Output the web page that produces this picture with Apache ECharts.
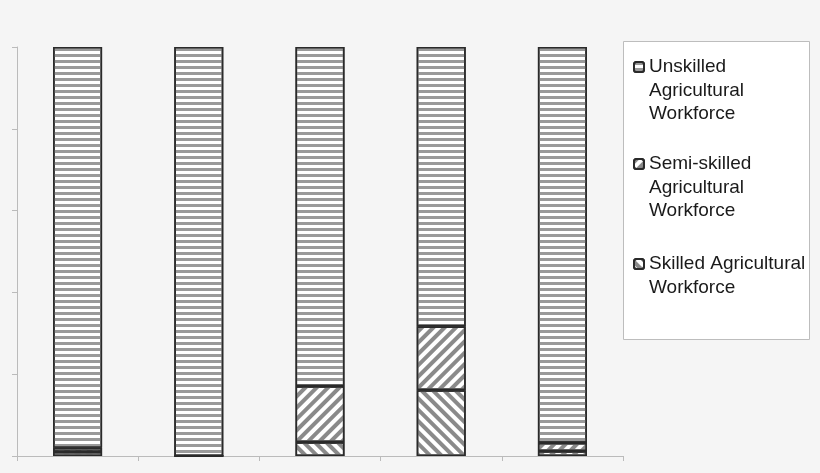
<!DOCTYPE html>
<html>
<head>
<meta charset="utf-8">
<script src="https://cdn.jsdelivr.net/npm/echarts@6/dist/echarts.min.js"></script>
<style>
  html, body { margin: 0; padding: 0; background: #f5f5f5; }
  #main { width: 820px; height: 473px; }
</style>
</head>
<body>
<div id="main"></div>
<script>
// categories are cut off in the picture, labels hidden
const categories = ['A', 'B', 'C', 'D', 'E'];
const skilled = [1.0, 0, 3.4, 16.1, 1.2];
const semiSkilled = [1.0, 0, 13.7, 15.6, 2.0];
const unskilled = [98.0, 100, 82.9, 68.3, 96.8];
const legendNames = [
    'Unskilled Agricultural Workforce',
    'Semi-skilled Agricultural Workforce',
    'Skilled Agricultural Workforce'
];

const chart = echarts.init(document.getElementById('main'));

const barStyle = (rotation, dashY, stripe) => ({
    color: '#fff',
    borderColor: '#2a2a2a',
    borderWidth: 1.6,
    decal: {
        symbol: 'rect',
        symbolSize: 1,
        dashArrayX: [[1, 0]],
        dashArrayY: dashY,
        rotation: rotation,
        color: stripe
    }
});

const font = '"Liberation Sans", Arial, sans-serif';
const lineH = 23.5;

// one legend per item so the icon sits on the first line of the text
const legendItem = (name, text, top) => ({
    data: [name],
    orient: 'vertical',
    left: 633,
    top: top,
    padding: 0,
    itemWidth: 10,
    itemHeight: 10,
    itemGap: 0,
    selectedMode: false,
    formatter: () => text,
    textStyle: { fontFamily: font, fontSize: 19, color: '#1a1a1a', lineHeight: lineH }
});

chart.setOption({
    backgroundColor: '#f5f5f5',
    animation: false,
    grid: { left: 17, right: 197, top: 47, bottom: 17 },
    graphic: [{
        type: 'rect',
        z: -1,
        shape: { x: 623.5, y: 41.5, width: 186, height: 298 },
        style: { fill: '#fff', stroke: '#bdbdbd', lineWidth: 1 }
    }],
    legend: [
        legendItem(legendNames[0], '\n\nUnskilled\nAgricultural\nWorkforce', 67 - 2.5 * lineH),
        legendItem(legendNames[1], '\n\nSemi-skilled\nAgricultural\nWorkforce', 164 - 2.5 * lineH),
        legendItem(legendNames[2], '\nSkilled Agricultural\nWorkforce', 264 - 1.5 * lineH)
    ],
    xAxis: {
        type: 'category',
        data: categories,
        axisLine: { lineStyle: { color: '#bbb', width: 1 } },
        axisTick: { show: true, length: 5, lineStyle: { color: '#bbb' } },
        axisLabel: { show: false }
    },
    yAxis: {
        type: 'value',
        min: 0,
        max: 100,
        interval: 20,
        splitLine: { show: false },
        axisLine: { show: true, lineStyle: { color: '#bbb', width: 1 } },
        axisTick: { show: true, length: 5, lineStyle: { color: '#bbb' } },
        axisLabel: { show: false }
    },
    series: [
        {
            name: legendNames[2],
            type: 'bar',
            stack: 'total',
            barWidth: 49,
            data: skilled,
            itemStyle: barStyle(Math.PI / 4, [3.5, 3.5], '#8a8a8a')
        },
        {
            name: legendNames[1],
            type: 'bar',
            stack: 'total',
            barWidth: 49,
            data: semiSkilled,
            itemStyle: barStyle(-Math.PI / 4, [3.5, 3.5], '#8a8a8a')
        },
        {
            name: legendNames[0],
            type: 'bar',
            stack: 'total',
            barWidth: 49,
            data: unskilled,
            itemStyle: barStyle(0, [2.5, 2.5], '#9a9a9a')
        }
    ]
});
</script>
</body>
</html>
